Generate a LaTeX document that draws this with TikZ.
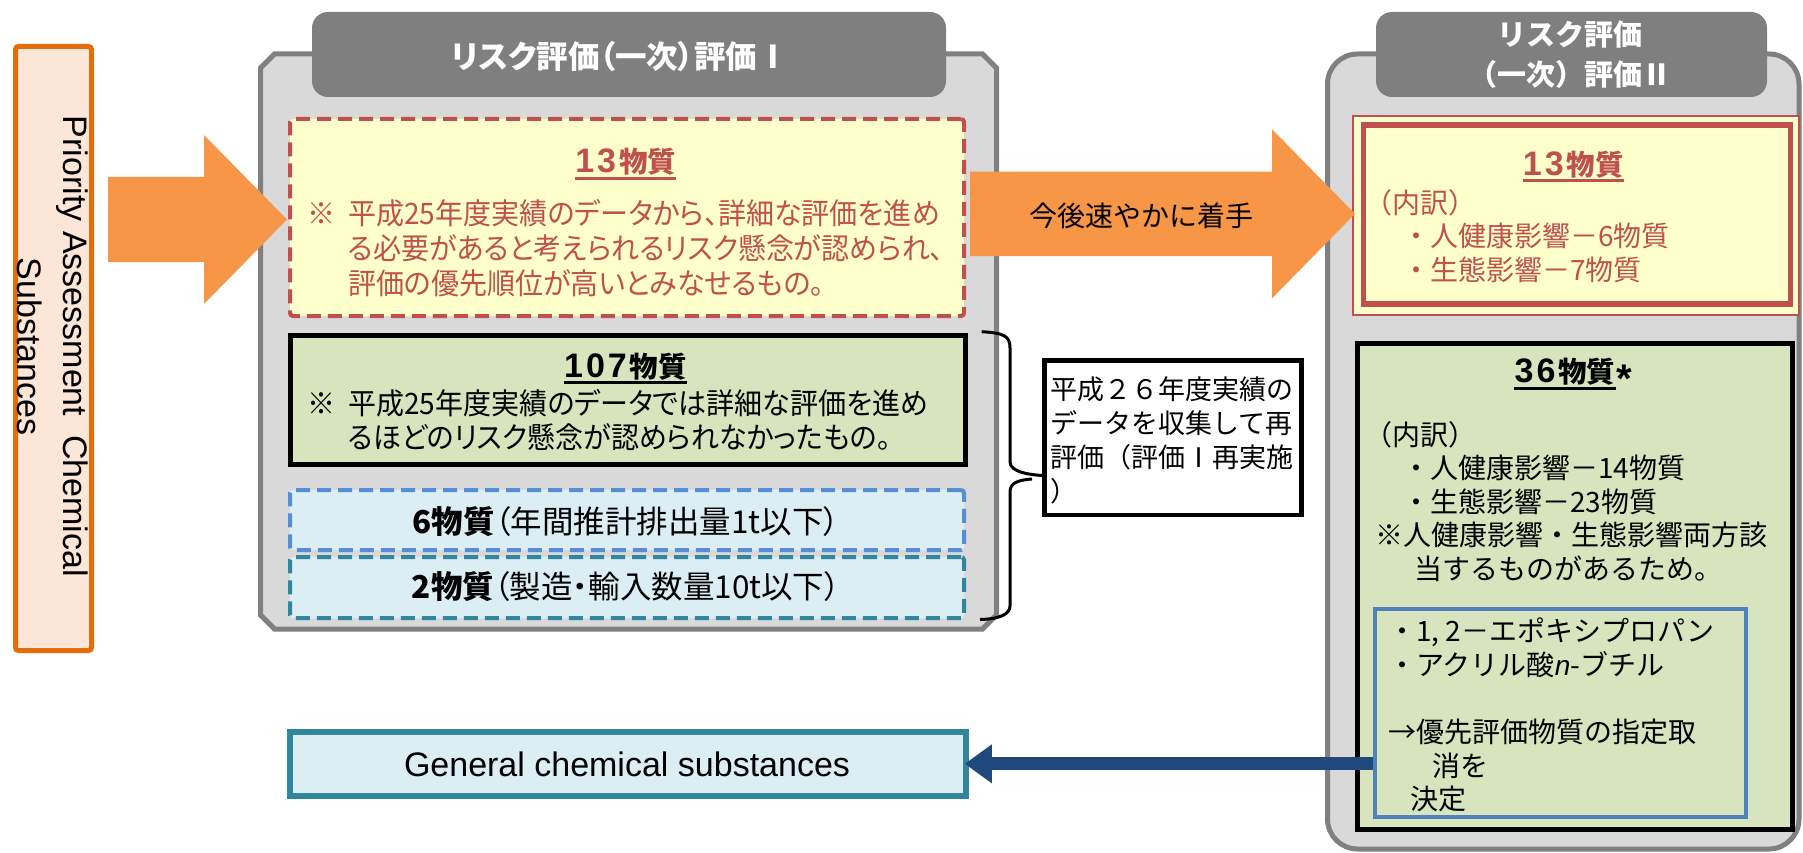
\documentclass[tikz,border=0pt]{standalone}
\usepackage{fontspec}
\setmainfont{Liberation Sans}
\newfontfamily\lsans{Liberation Sans}
\newfontfamily\jp{Noto Sans CJK JP}
\newfontfamily\jpp{Noto Sans CJK JP}[RawFeature=+palt]
\newfontfamily\jpn{Noto Sans CJK JP}[FakeStretch=0.95, RawFeature=+palt]
\usetikzlibrary{calc,fit,arrows.meta}
\newcommand\myfs[2]{\fontsize{#1}{#2}\selectfont}
\newcommand\mylines[1]{\begin{tabular}[t]{@{}l@{}}#1\end{tabular}}
\newcommand\dig[1]{{\lsans\myfs{34}{34}#1}\kern3pt}
\definecolor{orarrow}{HTML}{F79646}
\definecolor{orborder}{HTML}{E46C0A}
\definecolor{orfill}{HTML}{FCE6D8}
\definecolor{contfill}{HTML}{D9D9D9}
\definecolor{contdraw}{HTML}{808080}
\definecolor{tabfill}{HTML}{7F7F7F}
\definecolor{redc}{HTML}{C0504D}
\definecolor{yel}{HTML}{FFFFCC}
\definecolor{grn}{HTML}{D7E4BD}
\definecolor{ltblue}{HTML}{DBEEF4}
\definecolor{dashblue}{HTML}{558ED5}
\definecolor{tealc}{HTML}{31859C}
\definecolor{bluebd}{HTML}{4F81BD}
\definecolor{navyc}{HTML}{1F497D}
\begin{document}
\begin{tikzpicture}[x=1pt,y=-1pt,
  cont/.style={draw=contdraw, fill=contfill, line width=5pt},
  tab/.style={fill=tabfill, rounded corners=16pt, inner sep=0pt},
  obox/.style={draw=orborder, fill=orfill, line width=5pt, rounded corners=3pt, inner sep=0pt},
  rdash/.style={draw=redc, fill=yel, line width=4pt, dash pattern=on 14pt off 7pt, rounded corners=3pt, inner sep=0pt},
  bdash/.style={draw=dashblue, fill=ltblue, line width=4pt, dash pattern=on 14pt off 7pt, rounded corners=3pt, inner sep=0pt},
  tdash/.style={draw=tealc, fill=ltblue, line width=4pt, dash pattern=on 14pt off 7pt, rounded corners=3pt, inner sep=0pt},
  gbox/.style={draw=black, fill=grn, line width=5pt, inner sep=0pt},
  router/.style={draw=redc, fill=yel, line width=2pt, inner sep=0pt},
  rinner/.style={draw=redc, line width=5.5pt, inner sep=0pt},
  blbox/.style={draw=bluebd, fill=grn, line width=4pt, inner sep=0pt},
  wbox/.style={draw=black, fill=white, line width=4.5pt, inner sep=0pt},
  genbox/.style={draw=tealc, fill=ltblue, line width=5.5pt, inner sep=0pt},
  arrowshape/.style={fill=orarrow},
  tabtext/.style={text=white, inner sep=0pt, anchor=base},
  title/.style={font=\jp\bfseries\myfs{28.5}{34}, inner sep=0pt, anchor=base},
  body/.style={inner sep=0pt, anchor=base west},
  uline/.style={line width=3pt},
  brace/.style={draw=black, line width=3pt},
  darr/.style={draw=navyc, line width=13pt, -{Triangle[length=27pt,width=37pt]}, shorten >=-4pt}
]
\useasboundingbox (0,0) rectangle (1803,853);

% containers
\draw[cont] (260.5,68) -- (274.5,54) -- (982.5,54) -- (996.5,68) -- (996.5,615) -- (982.5,629) -- (274.5,629) -- (260.5,615) -- cycle;
\draw[cont, rounded corners=30pt] (1327.5,54) rectangle (1799,849);

% tabs
\node[tab, fit={(312,12) (946,97)}] (tab1) {};
\node[tab, fit={(1376,12) (1767,97)}] (tab2) {};
\node[tabtext, font=\jpp\bfseries\myfs{31.5}{36}] (tab1t) at (620,68.3) {リスク評価（一次）評価Ⅰ};
\node[tabtext, font=\jp\bfseries\myfs{29}{40}] (tab2t) at (1570,45.7) {\begin{tabular}[t]{@{}c@{}}リスク評価\\（一次）評価Ⅱ\end{tabular}};

% left priority box
\node[obox, fit={(15.5,46.5) (91.5,650.5)}] (pbox) {};
\node[rotate=-90, font=\myfs{34}{46}, inner sep=0pt] (ptext) at (49.2,346.5) {\begin{tabular}{@{}c@{}}Priority Assessment\ \ Chemical\\Substances\end{tabular}};

% left boxes
\node[rdash, fit={(290,119) (964,316)}] (r13) {};
\node[gbox, fit={(290.5,335) (965,464.5)}] (g107) {};
\node[bdash, fit={(290,490) (964,550)}] (b6) {};
\node[tdash, fit={(290,557) (964,618)}] (b2) {};

\node[title, text=redc] (t13) at (625.7,172.3) {\dig{1\kern3pt 3}物質};
\draw[uline, redc] ($(t13.base west)+(0,6)$) -- ($(t13.base east)+(0,6)$);
\node[body, text=redc, font=\jpn\myfs{29.5}{34.5}] (b13t) at (307,224) {\begin{tabular}[t]{@{}l@{}l@{}}\makebox[41pt][l]{※}&平成25年度実績のデータから、詳細な評価を進め\\&る必要があると考えられるリスク懸念が認められ、\\&評価の優先順位が高いとみなせるもの。\end{tabular}};

\node[title] (t107) at (625.5,377.5) {\dig{1\kern3pt 0\kern3pt 7}物質};
\draw[uline] ($(t107.base west)+(0,5)$) -- ($(t107.base east)+(0,5)$);
\node[body, font=\jpn\myfs{29.5}{33}] (b107t) at (307,414) {\begin{tabular}[t]{@{}l@{}l@{}}\makebox[41pt][l]{※}&平成25年度実績のデータでは詳細な評価を進め\\&るほどのリスク懸念が認められなかったもの。\end{tabular}};

\node[inner sep=0pt, anchor=base, font=\jp\myfs{31.5}{36}] (b6t) at (626,533.5) {{\bfseries 6物質}{\jpp （}年間推計排出量1t以下{\jpp ）}};
\node[inner sep=0pt, anchor=base, font=\jp\myfs{31.5}{36}] (b2t) at (626,598.5) {{\bfseries 2物質}{\jpp （}製造{\jpp ・}輸入数量10t以下{\jpp ）}};

% brace and re-evaluation box
\node[wbox, fit={(1044.7,360.3) (1301.3,515)}] (tbox) {};
\node[body, font=\jp\myfs{27}{34}] (tboxt) at (1050,399) {\mylines{平成２６年度実績の\\データを収集して再\\評価（評価Ⅰ再実施\\）}};
\coordinate (btop) at (981.7,331.7);
\coordinate (btip) at (1043,475.5);
\coordinate (bbot) at (980,619.5);
\draw[brace] (btop) .. controls (1004,333) and (1010,336) .. (1010,348) -- (1010,462) .. controls (1010,472) and (1030,475) .. (btip);
\draw[brace] (1032,479) .. controls (1016,480) and (1010,484) .. (1010,492) -- (1010,606) .. controls (1010,614) and (1000,619) .. (bbot);

% right boxes
\node[router, fit={(1352.5,116) (1799,314.5)}] (r13o) {};
\node[rinner, fit={(1363.5,125) (1790.5,304)}] (r13i) {};
\node[title, text=redc] (t13r) at (1573.3,175.5) {\dig{1\kern3pt 3}物質};
\draw[uline, redc] ($(t13r.base west)+(0,5)$) -- ($(t13r.base east)+(0,5)$);
\node[body, text=redc, font=\jp\myfs{28}{32.75}] (r13l) at (1364,213.6) {\mylines{（内訳）\\\hspace*{38pt}・人健康影響－6物質\\\hspace*{38pt}・生態影響－7物質}};

\node[gbox, fit={(1357.5,343) (1792.5,829.5)}] (g36) {};
\node[title] (t36) at (1565,382.5) {\dig{3\kern3pt 6}物質};
\node[title, anchor=base west, font=\lsans\bfseries\myfs{40}{40}] (t36s) at ($(t36.base east)+(1,0)$) {\raisebox{-10pt}{*}};
\draw[uline] ($(t36.base west)+(0,5.5)$) -- ($(t36.base east)+(0,5.5)$);
\node[body, font=\jp\myfs{28}{33}] (r36l) at (1364,445) {\mylines{（内訳）\\\hspace*{38pt}・人健康影響－14物質\\\hspace*{38pt}・生態影響－23物質\\\hspace*{11pt}※人健康影響・生態影響両方該\\\hspace*{50pt}当するものがあるため。}};

\node[blbox, fit={(1375.3,609.4) (1746,816.6)}] (bl) {};
\node[body, font=\jp\myfs{28}{33.4}] (bll) at (1388,641.5) {\mylines{・1, 2－エポキシプロパン\\・アクリル酸{\lsans\itshape n}-ブチル\\ \\→優先評価物質の指定取\\\hspace*{44pt}消を\\\hspace*{22pt}決定}};

% orange arrows
\fill[arrowshape] (108,177) -- (204,177) -- (204,135) -- (287,219.5) -- (204,304) -- (204,262) -- (108,262) -- cycle;
\fill[arrowshape] (970,171.7) -- (1272,171.7) -- (1272,129.3) -- (1355,213.8) -- (1272,298.3) -- (1272,256) -- (970,256) -- cycle;
\node[inner sep=0pt, anchor=base, font=\jp\myfs{28}{34}] (a2t) at (1141.7,226) {今後速やかに着手};

% general box and arrow
\node[genbox, fit={(290,731.8) (966,795.8)}] (gen) {};
\node[inner sep=0pt, anchor=base, font=\myfs{34}{40}] (gent) at (627,776.5) {General chemical substances};
\draw[darr] (bl.west |- gen.east) -- (gen.east);
\end{tikzpicture}
\end{document}
